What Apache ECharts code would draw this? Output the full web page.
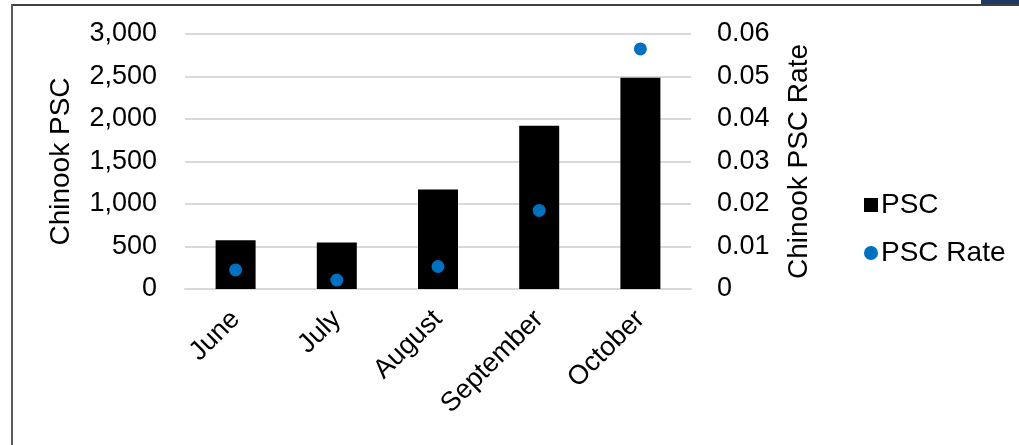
<!DOCTYPE html>
<html>
<head>
<meta charset="utf-8">
<script src="https://cdn.jsdelivr.net/npm/echarts@6/dist/echarts.min.js"></script>
<style>
html,body{margin:0;padding:0;background:#fff;}
#chart{width:1019px;height:445px;}
</style>
</head>
<body>
<div id="chart"></div>
<script>
var months = ['June', 'July', 'August', 'September', 'October'];
var pscCount = [575, 548, 1172, 1922, 2484];
var pscRate = [0.0045, 0.0021, 0.0053, 0.0185, 0.0565];

var fnt = 'Liberation Sans, Arial, sans-serif';
var chart = echarts.init(document.getElementById('chart'));

chart.setOption({
    animation: false,
    backgroundColor: '#fff',
    grid: {left: 185, right: 328, top: 34, bottom: 156},
    legend: {
        orient: 'vertical',
        left: 859,
        top: 186,
        itemGap: 20,
        itemWidth: 14,
        itemHeight: 14,
        textStyle: {fontFamily: fnt, fontSize: 28, color: '#000', padding: [0, 0, 0, -2]},
        data: [{name: 'PSC', icon: 'rect'}, {name: 'PSC Rate', icon: 'circle'}]
    },
    graphic: [
        {type: 'rect', shape: {x: 11, y: 4, width: 1008, height: 2}, style: {fill: '#404040'}},
        {type: 'rect', shape: {x: 11, y: 4, width: 2, height: 441}, style: {fill: '#595959'}},
        {type: 'rect', shape: {x: 981, y: 0, width: 38, height: 4}, style: {fill: '#1f3864'}}
    ],
    xAxis: {
        type: 'category',
        data: months,
        axisTick: {show: false},
        axisLine: {lineStyle: {color: '#d9d9d9', width: 2}},
        axisLabel: {rotate: 45, fontFamily: fnt, fontSize: 27, color: '#000', margin: 26}
    },
    yAxis: [
        {
            type: 'value', min: 0, max: 3000, interval: 500,
            name: 'Chinook PSC', nameLocation: 'middle', nameRotate: 90, nameGap: 110,
            nameTextStyle: {fontFamily: fnt, fontSize: 28, color: '#000'},
            axisLabel: {
                fontFamily: fnt, fontSize: 27, color: '#000', margin: 28,
                formatter: function (v) { return v.toLocaleString('en-US'); }
            },
            splitLine: {lineStyle: {color: '#d9d9d9', width: 2}},
            axisLine: {show: false}, axisTick: {show: false}
        },
        {
            type: 'value', min: 0, max: 0.06, interval: 0.01,
            name: 'Chinook PSC Rate', nameLocation: 'middle', nameRotate: 90, nameGap: 94,
            nameTextStyle: {fontFamily: fnt, fontSize: 28, color: '#000'},
            axisLabel: {
                fontFamily: fnt, fontSize: 27, color: '#000', margin: 26,
                formatter: function (v) { return v === 0 ? '0' : v.toFixed(2); }
            },
            splitLine: {show: false},
            axisLine: {show: false}, axisTick: {show: false}
        }
    ],
    series: [
        {
            name: 'PSC', type: 'bar', data: pscCount, barWidth: 40,
            itemStyle: {color: '#000'}
        },
        {
            name: 'PSC Rate', type: 'scatter', yAxisIndex: 1, data: pscRate,
            symbolSize: 13, itemStyle: {color: '#0070c0', opacity: 1}
        }
    ]
});
</script>
</body>
</html>
